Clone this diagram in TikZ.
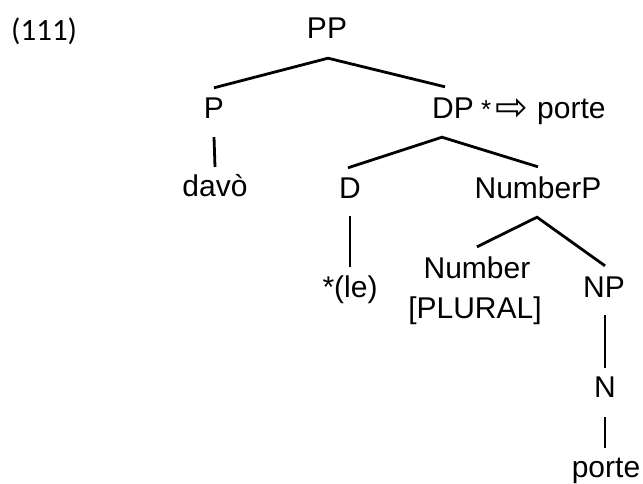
\documentclass[tikz,border=0pt]{standalone}
\usepackage{fontspec}
\setmainfont{Liberation Sans}
\newfontfamily\exfont{Carlito}
\newfontfamily\arrfont{DejaVu Sans}
\begin{document}
\begin{tikzpicture}[x=1pt,y=-1pt,
  lbl/.style={inner sep=0pt, anchor=base, text height=22pt, text depth=6pt,
              font=\fontsize{30}{36}\selectfont},
  edge/.style={line width=2.8pt, line join=miter}]
\useasboundingbox (0,0) rectangle (643,483);
% example number
\node[inner sep=0pt, anchor=base west, font=\exfont\fontsize{31}{36}\selectfont] (ex) at (11,40) {(111)};
% tree labels
\node[lbl] (PP) at (327,38) {PP};
\node[lbl] (P) at (214,118) {P};
\node[lbl] (DP) at (453,118) {DP};
\node[inner sep=0pt, anchor=base west, font=\fontsize{26}{30}\selectfont] (star) at (481,118) {*};
\node[inner sep=0pt, anchor=center, font=\arrfont\fontsize{39}{44}\selectfont] (arr) at (512,110) {⇨};
\node[inner sep=0pt, anchor=base west, font=\fontsize{30}{36}\selectfont] (porte1) at (537,118) {porte};
\node[lbl] (davo) at (215,196) {davò};
\node[lbl] (D) at (350,198) {D};
\node[lbl] (NumP) at (538,198) {NumberP};
\node[lbl] (le) at (350,297) {*(le)};
\node[lbl] (Num) at (477,278) {Number};
\node[lbl] (Plur) at (475,318) {[PLURAL]};
\node[lbl] (NP) at (604,297) {NP};
\node[lbl] (N) at (605,397) {N};
\node[lbl] (porte) at (606,477) {porte};
% branches
\draw[edge] ([yshift=8pt]P.north) -- ([xshift=1pt,yshift=-14pt]PP.south) -- ([xshift=-8pt,yshift=9pt]DP.north);
\draw[edge] ([yshift=-13pt]P.south) -- ([yshift=7pt]davo.north);
\draw[edge] ([xshift=-2pt,yshift=8pt]D.north) -- ([xshift=-11pt,yshift=-13pt]DP.south) -- ([yshift=9pt]NumP.north);
\draw[edge] ([yshift=-12pt]D.south) -- ([yshift=8pt]le.north);
\draw[edge] ([yshift=9pt]Num.north) -- ([xshift=-1pt,yshift=-13pt]NumP.south) -- ([xshift=1pt,yshift=9pt]NP.north);
\draw[edge] ([xshift=1pt,yshift=-12pt]NP.south) -- ([yshift=7pt]N.north);
\draw[edge] ([yshift=-14pt]N.south) -- ([xshift=-1pt,yshift=7pt]porte.north);
\end{tikzpicture}
\end{document}
